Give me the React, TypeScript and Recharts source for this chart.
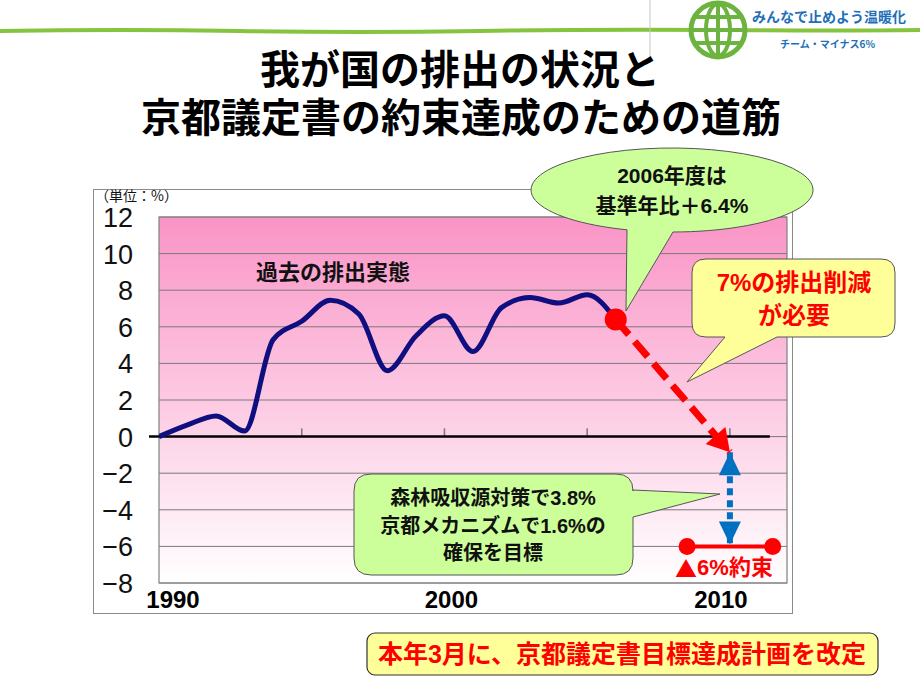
import React from 'react';
import {
  ComposedChart,
  Line,
  XAxis,
  YAxis,
  CartesianGrid,
  ReferenceLine,
  ReferenceArea,
} from 'recharts';

// 基準年比（%）
const years = [1990, 1991, 1992, 1993, 1994, 1995, 1996, 1997, 1998, 1999, 2000, 2001, 2002, 2003, 2004, 2005, 2006];
const emissions = [0, 0.64, 1.13, 0.3, 5.3, 6.3, 7.45, 6.7, 3.6, 5.5, 6.6, 4.65, 7.05, 7.6, 7.3, 7.75, 6.4];

const reductionYears = [2006, 2010];
const reductionValues = [6.4, -0.85];

const offsetYears = [2010, 2010];
const offsetValues = [-0.85, -5.9];

const targetYears = [2008.5, 2011.5];
const targetValues = [-6, -6];

const yTicks = [-8, -6, -4, -2, 0, 2, 4, 6, 8, 10, 12];
const xLabelYears = [1990, 2000, 2010];
const xTickMarks = [1995, 2000, 2005, 2010];

const emissionData = years.map((year, i) => ({ year, v: emissions[i] }));
const reductionData = reductionYears.map((year, i) => ({ year, v: reductionValues[i] }));
const offsetData = offsetYears.map((year, i) => ({ year, v: offsetValues[i] }));
const targetData = targetYears.map((year, i) => ({ year, v: targetValues[i] }));

const FONT = "'Liberation Sans', Arial, 'Noto Sans CJK JP', sans-serif";
const CJK = "'Noto Sans CJK JP', sans-serif";

const head = (tx: number, ty: number, fx: number, fy: number, len: number, hw: number) => {
  const a = Math.atan2(ty - fy, tx - fx);
  const bx = tx - len * Math.cos(a);
  const by = ty - len * Math.sin(a);
  const nx = -Math.sin(a) * hw;
  const ny = Math.cos(a) * hw;
  return `${tx},${ty} ${bx + nx},${by + ny} ${bx - nx},${by - ny}`;
};

let redFrom = { x: 0, y: 0 };
const RedArrowDot = (props: any) => {
  const { cx, cy, index } = props;
  if (index === 0) {
    redFrom = { x: cx, y: cy };
    return <circle key="rd0" cx={cx} cy={cy} r={11} fill="#FF0000" />;
  }
  return <polygon key="rd1" points={head(cx, cy, redFrom.x, redFrom.y, 22, 13)} fill="#FF0000" />;
};

let blueTop = { x: 0, y: 0 };
const BlueArrowDot = (props: any) => {
  const { cx, cy, index } = props;
  if (index === 0) {
    blueTop = { x: cx, y: cy };
    return <g key="bd0" />;
  }
  return (
    <g key="bd1">
      <polygon points={head(blueTop.x, blueTop.y, cx, cy, 23, 11)} fill="#0070C0" />
      <polygon points={head(cx, cy, blueTop.x, blueTop.y, 23, 11)} fill="#0070C0" />
    </g>
  );
};

const TargetDot = (props: any) => (
  <circle key={`t${props.index}`} cx={props.cx} cy={props.cy} r={8.5} fill="#FF0000" />
);

const YTick = ({ x, y, payload }: any) => (
  <text x={x} y={y + 1} textAnchor="end" dominantBaseline="central" fontSize={27} fontFamily={FONT} fill="#111">
    {payload.value < 0 ? `\u2212${Math.abs(payload.value)}` : payload.value}
  </text>
);

const labelShift: Record<number, number> = { 1990: 14, 2000: 7, 2010: -9 };
const XTick = ({ x, y, payload }: any) => (
  <text x={x + (labelShift[payload.value] || 0)} y={y} dy={17} textAnchor="middle" fontSize={24} fontWeight="bold" fontFamily={FONT} fill="#000">
    {payload.value}
  </text>
);

const Overlay = () => (
  <svg width={920} height={690} style={{ position: 'absolute', left: 0, top: 0, pointerEvents: 'none' }}>
    {/* header */}
    <path d="M0 31 Q 120 29 240 31 T 480 31 T 720 30 T 920 30" stroke="#86C440" strokeWidth={4} fill="none" />
    <line x1={650} y1={0} x2={650} y2={58} stroke="#c8c8c8" strokeWidth={1} />
    <g stroke="#6DB33F" fill="none">
      <circle cx={718} cy={30} r={27} fill="#fff" strokeWidth={5} />
      <ellipse cx={718} cy={30} rx={12} ry={26} strokeWidth={4} />
      <line x1={718} y1={4} x2={718} y2={56} strokeWidth={4} />
      <line x1={692} y1={30} x2={744} y2={30} strokeWidth={4} />
      <line x1={696} y1={17} x2={740} y2={17} strokeWidth={4} />
      <line x1={696} y1={43} x2={740} y2={43} strokeWidth={4} />
    </g>
    <text x={752} y={16} dominantBaseline="central" fontSize={14} fontWeight="bold" fontFamily={CJK} fill="#1E6FB8">
      みんなで止めよう温暖化
    </text>
    <text x={780} y={43} dominantBaseline="central" fontSize={10} fontWeight="bold" fontFamily={CJK} fill="#1E6FB8">
      チーム・マイナス6%
    </text>

    <text x={460} y={70} textAnchor="middle" dominantBaseline="central" fontSize={40} fontWeight="bold" fontFamily={FONT} fill="#000">
      我が国の排出の状況と
    </text>
    <text x={461} y={118} textAnchor="middle" dominantBaseline="central" fontSize={40} fontWeight="bold" fontFamily={FONT} fill="#000">
      京都議定書の約束達成のための道筋
    </text>

    {/* chart texts */}
    <text x={95} y={195} dominantBaseline="central" fontSize={14} fontFamily={CJK} fill="#111">
      （単位：%）
    </text>
    <text x={256} y={270} dominantBaseline="central" fontSize={22} fontWeight="bold" fontFamily={CJK} fill="#111">
      過去の排出実態
    </text>

    {/* 2006 callout */}
    <path
      d="M 627 229.8 A 141 42 0 1 1 673 232 L 626 311 Z"
      fill="#CCFF99"
      stroke="#555"
      strokeWidth={1}
    />
    <text x={672} y={175} textAnchor="middle" dominantBaseline="central" fontSize={21} fontWeight="bold" fontFamily={FONT} fill="#111">
      2006年度は
    </text>
    <text x={672} y={205} textAnchor="middle" dominantBaseline="central" fontSize={21} fontWeight="bold" fontFamily={FONT} fill="#111">
      基準年比＋6.4%
    </text>

    {/* 7% callout */}
    <path
      d="M 706 259 H 881 Q 895 259 895 273 V 323 Q 895 337 881 337 H 777 L 687 382 L 725 337 H 706 Q 692 337 692 323 V 273 Q 692 259 706 259 Z"
      fill="#FFFF99"
      stroke="#555"
      strokeWidth={1}
    />
    <text x={794} y={282} textAnchor="middle" dominantBaseline="central" fontSize={24} fontWeight="bold" fontFamily={FONT} fill="#FF0000">
      7%の排出削減
    </text>
    <text x={794} y={315} textAnchor="middle" dominantBaseline="central" fontSize={24} fontWeight="bold" fontFamily={FONT} fill="#FF0000">
      が必要
    </text>

    {/* 森林吸収源 callout */}
    <path
      d="M 371 474 H 616 Q 633 474 633 491 V 490 L 720 494 L 633 517 V 558 Q 633 575 616 575 H 371 Q 354 575 354 558 V 491 Q 354 474 371 474 Z"
      fill="#CCFF99"
      stroke="#555"
      strokeWidth={1}
    />
    {['森林吸収源対策で3.8%', '京都メカニズムで1.6%の', '確保を目標'].map((t, i) => (
      <text key={t} x={493} y={498 + i * 27.5} textAnchor="middle" dominantBaseline="central" fontSize={20} fontWeight="bold" fontFamily={FONT} fill="#111">
        {t}
      </text>
    ))}

    <text x={724} y={567} textAnchor="middle" dominantBaseline="central" fontSize={22} fontWeight="bold" fontFamily={FONT} fill="#FF0000">
      <tspan fontFamily={CJK}>▲</tspan>6%約束
    </text>

    {/* bottom note */}
    <rect x={367} y={633} width={511} height={42} rx={8} fill="#FFFF99" stroke="#333" strokeWidth={1.2} />
    <text x={622} y={654} textAnchor="middle" dominantBaseline="central" fontSize={25} fontWeight="bold" fontFamily={FONT} fill="#FF0000">
      本年3月に、京都議定書目標達成計画を改定
    </text>
  </svg>
);

export default function App() {
  return (
    <div style={{ position: 'absolute', left: 0, top: 0, width: 920, height: 690, background: '#fff', overflow: 'hidden' }}>
      <svg width={0} height={0} style={{ position: 'absolute' }}>
        <defs>
          <linearGradient id="plotBg" x1="0" y1="0" x2="0" y2="1">
            <stop offset="0%" stopColor="#FA94C6" />
            <stop offset="100%" stopColor="#FFFFFF" />
          </linearGradient>
        </defs>
      </svg>
      <div
        style={{
          position: 'absolute',
          left: 93,
          top: 189,
          width: 698,
          height: 423,
          border: '1.5px solid #8a8a8a',
          background: '#fff',
        }}
      />
      <div style={{ position: 'absolute', left: 0, top: 0 }}>
        <ComposedChart width={920} height={690} margin={{ top: 217, right: 133, bottom: 0, left: 0 }}>
          <CartesianGrid vertical={false} stroke="#7a7a7a" strokeWidth={1} fill="url(#plotBg)" fillOpacity={1} />
          <XAxis
            dataKey="year"
            type="number"
            domain={[1990, 2012]}
            ticks={xLabelYears}
            allowDataOverflow
            axisLine={false}
            tickLine={false}
            tickSize={0}
            tickMargin={8}
            height={107}
            tick={<XTick />}
          />
          <YAxis
            domain={[-8, 12]}
            ticks={yTicks}
            allowDataOverflow
            axisLine={false}
            tickLine={false}
            tickSize={0}
            tickMargin={26}
            width={159}
            tick={<YTick />}
          />
          <ReferenceArea x1={1990} x2={2012} y1={-8} y2={12} fill="none" stroke="#808080" strokeWidth={1.2} />
          {xTickMarks.map((yr) => (
            <ReferenceLine
              key={yr}
              segment={[{ x: yr, y: 0 }, { x: yr, y: 0.45 }]}
              stroke="#777"
              strokeWidth={1.5}
            />
          ))}
          <ReferenceLine
            segment={[{ x: 1989.65, y: 0 }, { x: 2011.4, y: 0 }]}
            stroke="#000"
            strokeWidth={2.5}
            ifOverflow="visible"
          />
          <Line
            data={emissionData}
            dataKey="v"
            type="monotone"
            stroke="#0F0F80"
            strokeWidth={5}
            dot={false}
            activeDot={false}
            isAnimationActive={false}
          />
          <Line
            data={offsetData}
            dataKey="v"
            type="linear"
            stroke="#0070C0"
            strokeWidth={6}
            strokeDasharray="7 5"
            dot={BlueArrowDot}
            activeDot={false}
            isAnimationActive={false}
          />
          <Line
            data={targetData}
            dataKey="v"
            type="linear"
            stroke="#FF0000"
            strokeWidth={4}
            dot={TargetDot}
            activeDot={false}
            isAnimationActive={false}
          />
          <Line
            data={reductionData}
            dataKey="v"
            type="linear"
            stroke="#FF0000"
            strokeWidth={7}
            strokeDasharray="20 9"
            dot={RedArrowDot}
            activeDot={false}
            isAnimationActive={false}
          />
        </ComposedChart>
      </div>
      <Overlay />
    </div>
  );
}
